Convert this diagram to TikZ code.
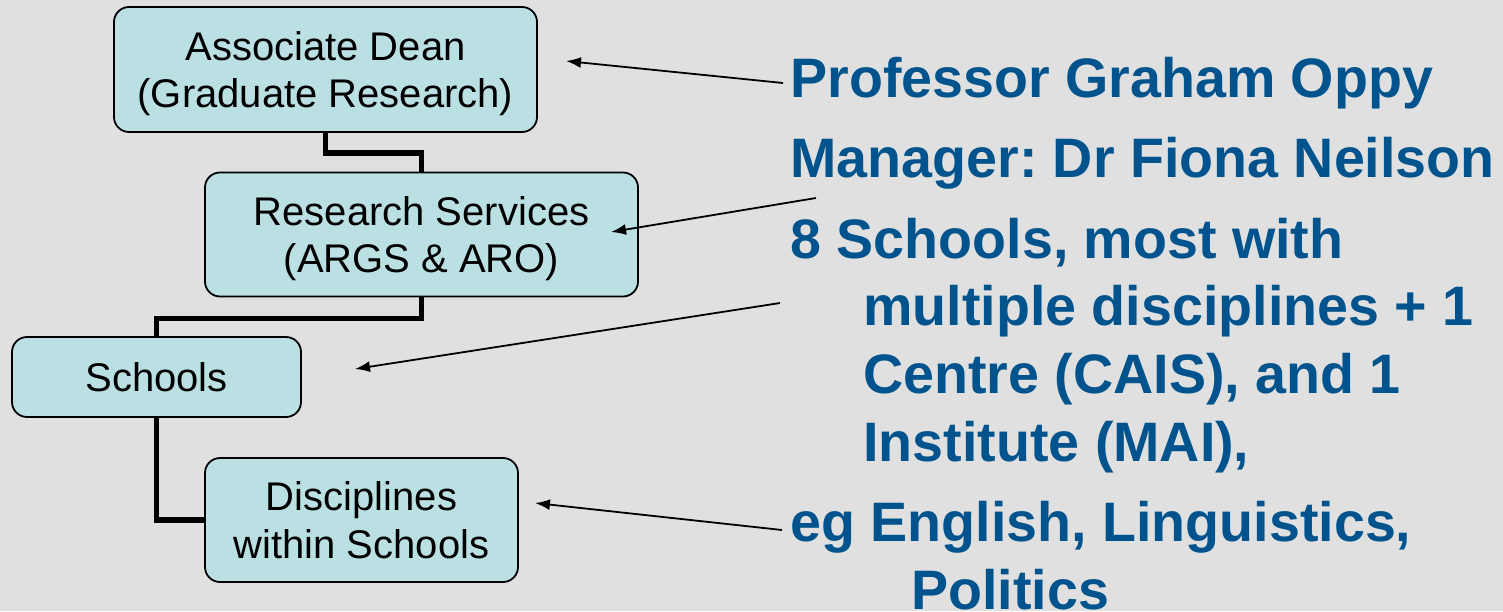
\documentclass[tikz,border=0pt]{standalone}
\usepackage{fontspec}
\setmainfont{Liberation Sans}
\usepackage{xcolor}
\usepackage{tikz}
\usetikzlibrary{arrows.meta}
\usetikzlibrary{positioning}
\definecolor{bggray}{HTML}{E0E0E0}
\definecolor{boxblue}{HTML}{BBE0E3}
\definecolor{textblue}{HTML}{00538C}
\newcommand{\boxlines}[1]{\raisebox{0pt}[\dimexpr\height+5pt\relax][\depth]{\begin{tabular}{@{}c@{}}#1\end{tabular}}}
\tikzset{
    mybox/.style = {rectangle, rounded corners=7.5pt, draw=black, line width=0.9pt, fill=boxblue, align=center, inner sep=0pt, font=\fontsize{20}{23.6}\selectfont},
    mytext/.style = {anchor=base west, inner sep=0pt, text=textblue, font=\fontsize{27.8}{33}\selectfont\bfseries\frenchspacing},
}

\begin{document}
\begin{tikzpicture}[
    x=0.5pt, y=-0.5pt
]
\tikzset{
    edget/.style = {-, line width=2.6pt},
    edgea/.style = {-{Latex[length=7.5pt,width=5.5pt]}, line width=0.9pt}
}
\fill[bggray] (0,0) rectangle (1503,611);
\useasboundingbox (0,0) rectangle (1503,611);
\node[mybox, minimum width=211.5pt, minimum height=62.5pt] at (325.5,69.5) (dean) {\boxlines{Associate Dean\\(Graduate Research)}};
\node[mybox, minimum width=216.5pt, minimum height=62pt] at (421.5,234.5) (serv) {\boxlines{Research Services\\(ARGS \& ARO)}};
\node[mybox, minimum width=144.5pt, minimum height=40pt] at (156.5,377) (sch) {Schools};
\node[mybox, minimum width=156.5pt, minimum height=62pt] at (361.5,520) (disc) {\boxlines{Disciplines\\within Schools}};
\draw[edget] (dean.south) -- ++(0,20) -| (serv.north);
\draw[edget] (serv.south) -- ++(0,21) -| (sch.north);
\draw[edget] (sch.south) |- (disc.west);
\node[mytext] at (790,97) (prof) {Professor Graham Oppy};
\node[mytext] at (790,177) (mgr) {Manager: Dr Fiona Neilson};
\node[mytext] at (790,258) (eight) {8 Schools, most with};
\node[mytext] at (863,325) (multi) {multiple disciplines + 1};
\node[mytext] at (863,393) (cais) {Centre (CAIS), and 1};
\node[mytext] at (863,461) (mai) {Institute (MAI),};
\node[mytext] at (790,541) (eg) {eg English, Linguistics,};
\node[mytext] at (911,609) (pol) {Politics};
\coordinate (tprof) at (783,83);
\coordinate (hdean) at (566,61);
\coordinate (tmgr) at (816,198);
\coordinate (hserv) at (611,232);
\coordinate (tmulti) at (780,303);
\coordinate (hsch) at (355,369);
\coordinate (teg) at (782,530);
\coordinate (hdisc) at (535,503);
\draw[edgea] (tprof) -- (hdean);
\draw[edgea] (tmgr) -- (hserv);
\draw[edgea] (tmulti) -- (hsch);
\draw[edgea] (teg) -- (hdisc);
\end{tikzpicture}
\end{document}
